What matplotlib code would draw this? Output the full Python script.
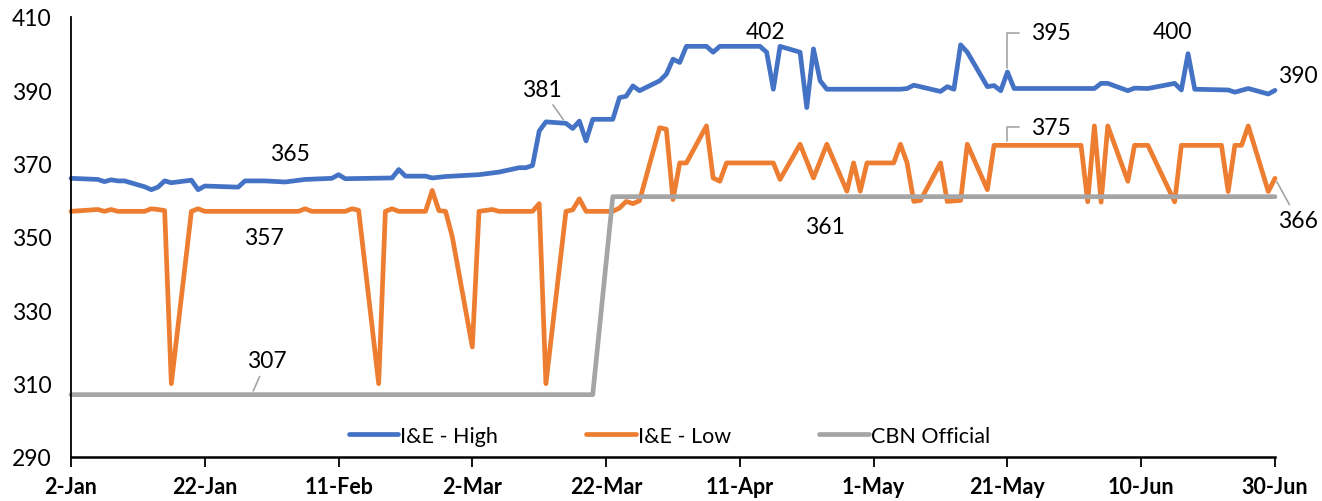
import matplotlib
matplotlib.use("Agg")
import matplotlib.pyplot as plt
import pandas as pd

plt.rcParams['font.family'] = ['Lato', 'DejaVu Sans']

# I&E window, highest rate per day (2020)
high_dates = ['01-02', '01-06', '01-07', '01-08', '01-09', '01-10', '01-13', '01-14', '01-15',
              '01-16', '01-17', '01-20', '01-21', '01-22', '01-27', '01-28', '01-31', '02-03',
              '02-06', '02-10', '02-11', '02-12', '02-19', '02-20', '02-21', '02-24', '02-25',
              '02-27', '03-02', '03-03', '03-06', '03-09', '03-10', '03-11', '03-12', '03-13',
              '03-16', '03-17', '03-18', '03-19', '03-20', '03-23', '03-24', '03-25', '03-26',
              '03-27', '03-30', '03-31', '04-01', '04-02', '04-03', '04-06', '04-07', '04-08',
              '04-14', '04-15', '04-16', '04-17', '04-20', '04-21', '04-22', '04-23', '04-24',
              '05-05', '05-06', '05-07', '05-11', '05-12', '05-13', '05-14', '05-15', '05-18',
              '05-19', '05-20', '05-21', '05-22', '05-29', '06-03', '06-04', '06-05', '06-08',
              '06-09', '06-11', '06-15', '06-16', '06-17', '06-18', '06-23', '06-24', '06-26',
              '06-29', '06-30']
high_vals = [366.0, 365.7, 365.1, 365.6, 365.3, 365.3, 363.7, 362.9, 363.6,
             365.3, 364.8, 365.5, 362.9, 363.9, 363.6, 365.3, 365.3, 365,
             365.7, 366.0, 367.0, 365.9, 366.1, 368.4, 366.6, 366.6, 366.1,
             366.5, 366.9, 367.0, 367.7, 368.9, 368.9, 369.5, 378.9, 381.4,
             381, 379.6, 381.6, 376.2, 382.1, 382.1, 388.0, 388.4, 391.2,
             389.9, 392.6, 394.4, 398.5, 397.6, 402, 402, 400.4, 402,
             402, 400.4, 390.3, 402, 400.4, 385.3, 401.3, 392.6, 390.3,
             390.3, 390.5, 391.4, 389.7, 391.0, 390.3, 402.4, 400.4, 391.0,
             391.3, 389.9, 395, 390.5, 390.5, 390.5, 391.9, 391.9, 389.9,
             390.6, 390.5, 391.9, 390.1, 400, 390.3, 390.1, 389.5, 390.5,
             389.0, 390]

# I&E window, lowest rate per day
low_dates = ['01-02', '01-06', '01-07', '01-08', '01-09', '01-13', '01-14', '01-15', '01-16',
             '01-17', '01-20', '01-21', '01-22', '01-31', '02-05', '02-06', '02-07', '02-12',
             '02-13', '02-14', '02-17', '02-18', '02-19', '02-20', '02-24', '02-25', '02-26',
             '02-27', '02-28', '03-02', '03-03', '03-05', '03-06', '03-11', '03-12', '03-13',
             '03-16', '03-17', '03-18', '03-19', '03-23', '03-24', '03-25', '03-26', '03-27',
             '03-30', '03-31', '04-01', '04-02', '04-03', '04-06', '04-07', '04-08', '04-09',
             '04-16', '04-17', '04-20', '04-22', '04-24', '04-27', '04-28', '04-29', '04-30',
             '05-04', '05-05', '05-06', '05-07', '05-08', '05-11', '05-12', '05-14', '05-15',
             '05-18', '05-19', '05-21', '06-01', '06-02', '06-03', '06-04', '06-05', '06-08',
             '06-09', '06-11', '06-15', '06-16', '06-22', '06-23', '06-24', '06-25', '06-26',
             '06-29', '06-30']
low_vals = [357, 357.5, 357, 357.5, 357, 357, 357.7, 357.5, 357.2,
            310, 357, 357.7, 357, 357, 357, 357.7, 357, 357,
            357.7, 357.3, 310, 357, 357.7, 357, 357, 362.7, 357.2,
            357, 350.1, 320, 357, 357.5, 357, 357, 359.1, 310,
            357, 357.4, 360.4, 357, 357, 357.9, 359.7, 359.1, 359.9,
            379.8, 379.4, 360.2, 370.2, 370.2, 380.3, 366.1, 365.2, 370.2,
            370.2, 365.7, 375.3, 366.1, 375.3, 362.5, 370.2, 362.5, 370.2,
            370.2, 375.3, 370.2, 359.7, 360.0, 370.2, 359.7, 360.0, 375.3,
            362.9, 375, 375, 375, 359.6, 380.3, 359.5, 380.3, 365.2,
            375, 375, 359.6, 375, 375, 362.4, 375, 375, 380.3,
            362.4, 366]

# CBN official rate
cbn_dates = ['01-02', '01-29', '03-20', '03-23', '04-23', '06-30']
cbn_vals = [307, 307, 307, 361, 361, 361]

series_names = ['I&E - High', 'I&E - Low', 'CBN Official']
colors = ['#4472C4', '#ED7D31', '#A5A5A5']


def to_dates(days):
    return pd.to_datetime(['2020-' + d for d in days])


series = {
    'high': (to_dates(high_dates), high_vals),
    'low': (to_dates(low_dates), low_vals),
    'cbn': (to_dates(cbn_dates), cbn_vals),
}

fig = plt.figure(figsize=(13.22, 5.02), dpi=100)
ax = fig.add_axes([71 / 1322, 44 / 502, 1204 / 1322, 440 / 502])

for key, name, c in zip(['high', 'low', 'cbn'], series_names, colors):
    x, y = series[key]
    ax.plot(x, y, color=c, lw=3.4, label=name, clip_on=False,
            solid_capstyle='round', solid_joinstyle='round')

# data labels: (series, date, text offset in pixels, leader kind)
labels = [
    ('high', '02-03', (5, 28), None),
    ('high', '03-16', (-24, 34), 'line'),
    ('high', '04-14', (6, 15), None),
    ('high', '05-21', (43, 39), 'elbow'),
    ('high', '06-17', (-16, 22), None),
    ('high', '06-30', (23, 15), None),
    ('low', '01-31', (-1, -26), None),
    ('low', '05-21', (43, 18), 'elbow'),
    ('low', '06-30', (23, -42), 'line'),
    ('cbn', '01-29', (15, 34), 'line'),
    ('cbn', '04-23', (5, -30), None),
]

for key, day, off, leader in labels:
    x, y = series[key]
    t = pd.Timestamp('2020-' + day)
    v = y[list(x).index(t)]
    props = None
    if leader == 'line':
        props = dict(arrowstyle='-', color='#A5A5A5', lw=1.2, shrinkA=2, shrinkB=3)
    elif leader == 'elbow':
        props = dict(arrowstyle='-', color='#A5A5A5', lw=1.2, shrinkA=6, shrinkB=3,
                     connectionstyle='angle,angleA=0,angleB=90,rad=0')
    ax.annotate(f'{v:.0f}', xy=(t, v), xytext=off, textcoords='offset pixels',
                ha='center', va='center', fontsize=16.5, color='black',
                arrowprops=props)

ax.set_xlim(pd.Timestamp('2020-01-02'), pd.Timestamp('2020-06-30'))
ticks = pd.date_range('2020-01-02', '2020-06-30', freq='20D')
ax.set_xticks(ticks)
ax.set_xticklabels([f'{t.day}-{t:%b}' for t in ticks], fontweight='bold')
ax.set_ylim(290, 410)
ax.set_yticks(range(290, 411, 20))

ax.tick_params(axis='x', length=7, width=1.3, direction='out', pad=7, labelsize=15.5)
ax.tick_params(axis='y', length=0, pad=14, labelsize=16.5)

for s in ['top', 'right']:
    ax.spines[s].set_visible(False)
ax.spines['left'].set_linewidth(1.3)
ax.spines['bottom'].set_linewidth(1.8)

ax.legend(loc='center', bbox_to_anchor=(0.497, 0.048), ncol=3, frameon=False,
          handlelength=2.3, handletextpad=0.1, columnspacing=4.1, fontsize=15.5)

fig.savefig('out.png', dpi=100)
